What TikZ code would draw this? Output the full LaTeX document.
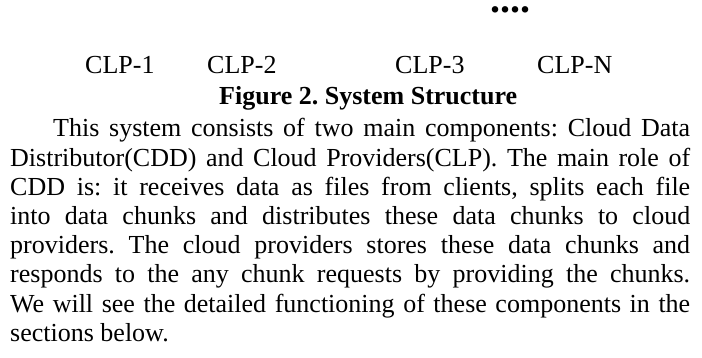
\documentclass[tikz,border=0pt]{standalone}
\usepackage{fontspec}
\setmainfont{Liberation Serif}
\usetikzlibrary{positioning}
\frenchspacing

\tikzset{
  txt/.style={anchor=base west, inner sep=0pt, font=\fontsize{26}{29}\selectfont},
  captxt/.style={txt, font=\fontsize{26}{29}\selectfont\bfseries},
}
% one justified line of the paragraph
\newcommand{\fullline}[2]{\makebox[#1][s]{#2}}

\begin{document}
\begin{tikzpicture}[x=1pt,y=-1pt]
  \fill[white] (0,0) rectangle (702,358);
  \useasboundingbox (0,0) rectangle (702,358);

  % providers
  \node[anchor=base, inner sep=0pt, font=\fontsize{40}{40}\selectfont\bfseries] (dots) at (510,13) {\smash{....}};
  \node[txt] (clp1) at (85,74) {CLP-1};
  \node[txt] (clp2) at (207,74) {CLP-2};
  \node[txt] (clp3) at (395,74) {CLP-3};
  \node[txt] (clpn) at (537,74) {CLP-N};

  % caption
  \node[captxt] (cap) at (219,105) {Figure 2. System Structure};

  % paragraph
  \node[txt] (l1) at (53,137) {\fullline{637pt}{This system consists of two main components: Cloud Data}};
  \node[txt] (l2) at (10,166.2) {\fullline{680pt}{Distributor(CDD) and Cloud Providers(CLP). The main role of}};
  \node[txt] (l3) at (10,195.4) {\fullline{680pt}{CDD is: it receives data as files from clients, splits each file}};
  \node[txt] (l4) at (10,224.6) {\fullline{680pt}{into data chunks and distributes these data chunks to cloud}};
  \node[txt] (l5) at (10,253.8) {\fullline{680pt}{providers. The cloud providers stores these data chunks and}};
  \node[txt] (l6) at (10,283) {\fullline{680pt}{responds to the any chunk requests by providing the chunks.}};
  \node[txt] (l7) at (10,312.2) {\fullline{680pt}{We will see the detailed functioning of these components in the}};
  \node[txt] (l8) at (10,341.4) {sections below.};
\end{tikzpicture}
\end{document}
